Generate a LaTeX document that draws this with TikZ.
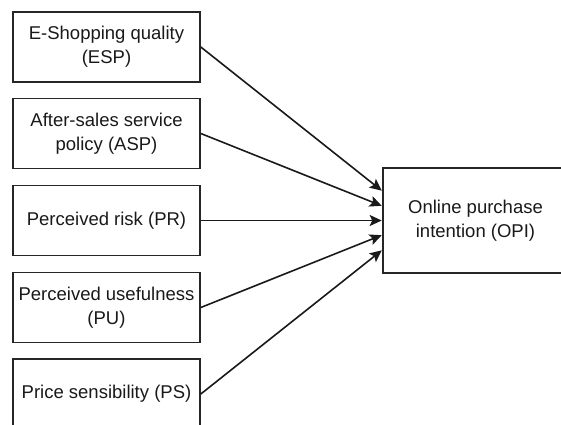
\documentclass[tikz,border=0pt]{standalone}
\usepackage{fontspec}
\setmainfont{Liberation Sans}
\usetikzlibrary{calc,arrows.meta}
\begin{document}
\begin{tikzpicture}[x=1pt,y=-1pt,
  box/.style={draw=black!85, line width=1.6pt, minimum width=187pt, minimum height=70pt,
    inner sep=0pt, align=center, font=\fontsize{18.5}{24}\selectfont, text=black!90},
  conn/.style={line width=1.6pt, draw=black!90, -{Stealth[length=12pt,width=11pt,inset=2.5pt]}, shorten >=0.5pt}]
\useasboundingbox (0,0) rectangle (561,424);
\clip (0,0) rectangle (561,424);
\node[box] (esp) at (106.5,47) {E-Shopping quality\\(ESP)};
\node[box] (asp) at (106.5,133.5) {After-sales service\\policy (ASP)};
\node[box] (pr)  at (106.5,220.5) {Perceived risk (PR)};
\node[box] (pu)  at (106.5,307.5) {Perceived usefulness\\(PU)};
\node[box] (ps)  at (106.5,394) {Price sensibility (PS)};
\node[box, minimum width=185pt, minimum height=105pt] (opi) at (475.5,220.5) {Online purchase\\intention (OPI)};
\coordinate (t1) at ($(opi.west)+(0,-29.5)$);
\coordinate (t2) at ($(opi.west)+(0,-14.5)$);
\coordinate (t3) at (opi.west);
\coordinate (t4) at ($(opi.west)+(0,14.5)$);
\coordinate (t5) at ($(opi.west)+(0,29.5)$);
\draw[conn] (esp.east) -- (t1);
\draw[conn] (asp.east) -- (t2);
\draw[conn] (pr.east) -- (t3);
\draw[conn] (pu.east) -- (t4);
\draw[conn] (ps.east) -- (t5);
\end{tikzpicture}
\end{document}
